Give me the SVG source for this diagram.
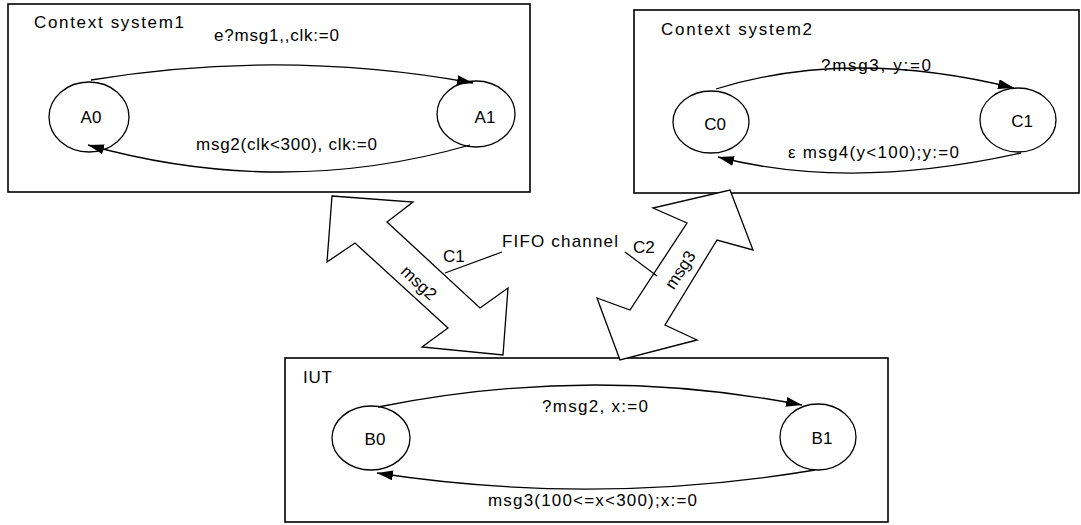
<svg xmlns="http://www.w3.org/2000/svg" width="1081" height="525" viewBox="0 0 1081 525">
<defs>
<style>
text{font-family:"Liberation Sans",Arial,sans-serif;font-size:17px;fill:#000}
.box{fill:none;stroke:#000;stroke-width:1.6}
.st{fill:#fff;stroke:#000;stroke-width:1.3}
.edge{fill:none;stroke:#000;stroke-width:1.3}
.big{fill:#fff;stroke:#000;stroke-width:1.3;stroke-linejoin:miter}
.lead{stroke:#000;stroke-width:1.2}
.c{text-anchor:middle}
</style>
<marker id="ah" viewBox="0 0 16 10" refX="16" refY="5" markerWidth="16" markerHeight="10" markerUnits="userSpaceOnUse" orient="auto">
<path d="M0,0 L16,5 L0,10 Z" fill="#000"/>
</marker>
</defs>
<rect width="1081" height="525" fill="#fff"/>

<g id="system1">
<rect class="box" x="8" y="4" width="522" height="188"/>
<text x="34" y="28" textLength="150" lengthAdjust="spacing">Context  system1</text>
</g>
<g id="system2">
<rect class="box" x="634" y="10" width="445" height="183"/>
<text x="661" y="35" textLength="151" lengthAdjust="spacing">Context  system2</text>
</g>
<g id="iut">
<rect class="box" x="285" y="358" width="603" height="164"/>
<text x="303" y="383" textLength="29" lengthAdjust="spacing">IUT</text>
</g>

<g id="A0"><ellipse class="st" cx="89" cy="117" rx="40" ry="35"/><text class="c" x="91" y="123">A0</text></g>
<g id="A1"><ellipse class="st" cx="476" cy="114" rx="39" ry="33"/><text class="c" x="485" y="123">A1</text></g>
<g id="C0"><ellipse class="st" cx="711" cy="122" rx="38" ry="31"/><text class="c" x="715" y="130">C0</text></g>
<g id="C1"><ellipse class="st" cx="1018" cy="120" rx="38" ry="32"/><text class="c" x="1022" y="127">C1</text></g>
<g id="B0"><ellipse class="st" cx="371" cy="438" rx="39" ry="32"/><text class="c" x="375" y="445">B0</text></g>
<g id="B1"><ellipse class="st" cx="818" cy="437" rx="38" ry="33"/><text class="c" x="822" y="444">B1</text></g>

<g id="channels">
<polygon class="big" points="332,196 413,202 387,222 480,308 508,288 503,355 422,347 448,328 355,243 327,262"/>
<polygon class="big" points="730,190 753,250 717,240 665,325 697,340 620,360 597,298 630,310 687,223 653,208"/>
<text class="c" transform="translate(415,287) rotate(43)">msg2</text>
<text class="c" transform="translate(685,273) rotate(-57)">msg3</text>
</g>

<g id="connectors">
<path class="edge" d="M91,80 Q282,48.5 473,83" marker-end="url(#ah)"/>
<path class="edge" d="M470,145 Q282,199 88,145" marker-end="url(#ah)"/>
<path class="edge" d="M716,89 Q850,47.5 1014,88" marker-end="url(#ah)"/>
<path class="edge" d="M1021,153 Q850,191 718,157" marker-end="url(#ah)"/>
<path class="edge" d="M378,407 Q590,364 802,405" marker-end="url(#ah)"/>
<path class="edge" d="M815,470 Q596,506.5 377,473" marker-end="url(#ah)"/>
<line class="lead" x1="445" y1="273" x2="502" y2="252"/>
<line class="lead" x1="625" y1="252" x2="657" y2="276"/>
</g>

<g id="labels">
<text x="214" y="41" textLength="125" lengthAdjust="spacing">e?msg1,,clk:=0</text>
<text x="196" y="150" textLength="181" lengthAdjust="spacing">msg2(clk&lt;300), clk:=0</text>
<text x="821" y="71" textLength="110" lengthAdjust="spacing">?msg3, y:=0</text>
<text x="788" y="158" textLength="171" lengthAdjust="spacing">ε msg4(y&lt;100);y:=0</text>
<text x="542" y="412" textLength="106" lengthAdjust="spacing">?msg2, x:=0</text>
<text x="488" y="506" textLength="209" lengthAdjust="spacing">msg3(100&lt;=x&lt;300);x:=0</text>
<text x="502" y="247" textLength="116" lengthAdjust="spacing">FIFO channel</text>
<text x="443" y="262">C1</text>
<text x="633" y="253">C2</text>
</g>
</svg>
